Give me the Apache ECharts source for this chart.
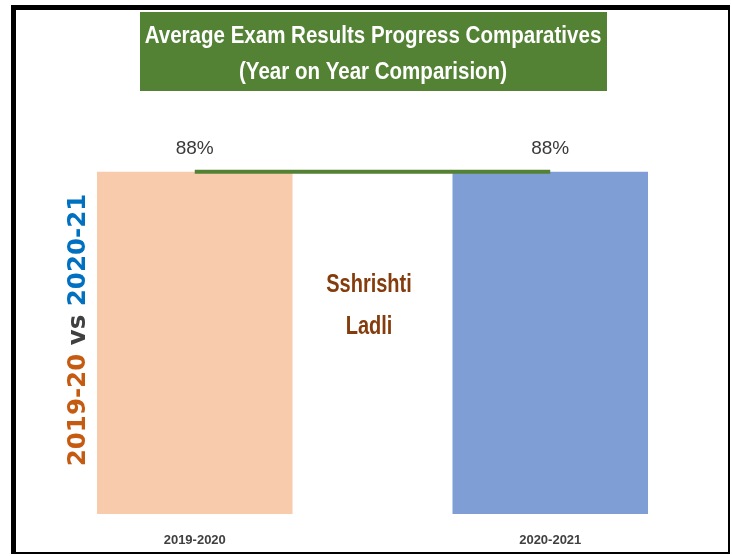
<!DOCTYPE html>
<html lang="en">
<head>
<meta charset="UTF-8">
<title>Average Exam Results Progress Comparatives</title>
<style type="text/css">
  html, body { margin: 0; padding: 0; background: #fff; }
  #chart { width: 732px; height: 556px; }
</style>
</head>
<body>
<div id="chart"></div>
<script src="https://cdn.jsdelivr.net/npm/echarts@6/dist/echarts.min.js"></script>
<script type="text/javascript">
// data
var years = ['2019-2020', '2020-2021'];
var results = [88, 88];
var barColors = ['#F8CBAD', '#7F9ED6'];

var font = '"Liberation Sans", Arial, sans-serif';

var myChart = echarts.init(document.getElementById('chart'));

var barData = [];
for (var i = 0; i < results.length; i++) {
  barData.push({ value: results[i], itemStyle: { color: barColors[i] } });
}

var option = {
  backgroundColor: '#fff',
  animation: false,
  grid: { left: 17, right: 4, top: 125, bottom: 42 },
  xAxis: {
    type: 'category',
    data: years,
    axisLine: { show: false },
    axisTick: { show: false },
    axisLabel: {
      margin: 20,
      color: '#404040',
      fontFamily: font,
      fontWeight: 'bold',
      fontSize: 13
    }
  },
  yAxis: {
    type: 'value',
    min: 0,
    max: 100,
    show: false
  },
  series: [
    {
      type: 'bar',
      data: barData,
      barWidth: '55%',
      z: 2,
      label: {
        show: true,
        position: 'top',
        distance: 13,
        formatter: '{c}%',
        color: '#3a3a3a',
        fontFamily: font,
        fontSize: 19
      }
    },
    {
      type: 'line',
      data: results,
      symbol: 'none',
      lineStyle: { color: '#548235', width: 4 },
      z: 3
    }
  ],
  graphic: [
    // frame
    { type: 'rect', shape: { x: 12, y: 6, width: 717, height: 547 }, style: { fill: 'none', stroke: '#000', lineWidth: 2 } },
    { type: 'rect', shape: { x: 11, y: 5, width: 719, height: 5 }, style: { fill: '#000' } },
    { type: 'rect', shape: { x: 11, y: 5, width: 5, height: 549 }, style: { fill: '#000' } },
    // title box
    { type: 'rect', shape: { x: 140, y: 12, width: 467, height: 79 }, style: { fill: '#548235' } },
    {
      type: 'text', x: 373, y: 54, scaleX: 0.855,
      style: {
        text: 'Average Exam Results Progress Comparatives\n(Year on Year Comparision)',
        fill: '#fff', font: 'bold 24px ' + font,
        align: 'center', verticalAlign: 'middle', lineHeight: 36
      }
    },
    // centre name
    {
      type: 'text', x: 369, y: 306, scaleX: 0.8,
      style: {
        text: 'Sshrishti\nLadli',
        fill: '#843C0C', font: 'bold 25px ' + font,
        align: 'center', verticalAlign: 'middle', lineHeight: 42
      }
    },
    // side caption
    {
      type: 'text', x: 79, y: 330, rotation: Math.PI / 2,
      style: {
        text: '{a|2019-20} {b|vs} {c|2020-21}',
        align: 'center', verticalAlign: 'middle',
        rich: {
          a: { fill: '#C55A11', font: 'bold 24.5px "DejaVu Sans"' },
          b: { fill: '#404040', font: 'bold 24.5px "DejaVu Sans"' },
          c: { fill: '#0070C0', font: 'bold 24.5px "DejaVu Sans"' }
        },
        font: 'bold 24.5px "DejaVu Sans"'
      }
    }
  ]
};

myChart.setOption(option);
</script>
</body>
</html>
